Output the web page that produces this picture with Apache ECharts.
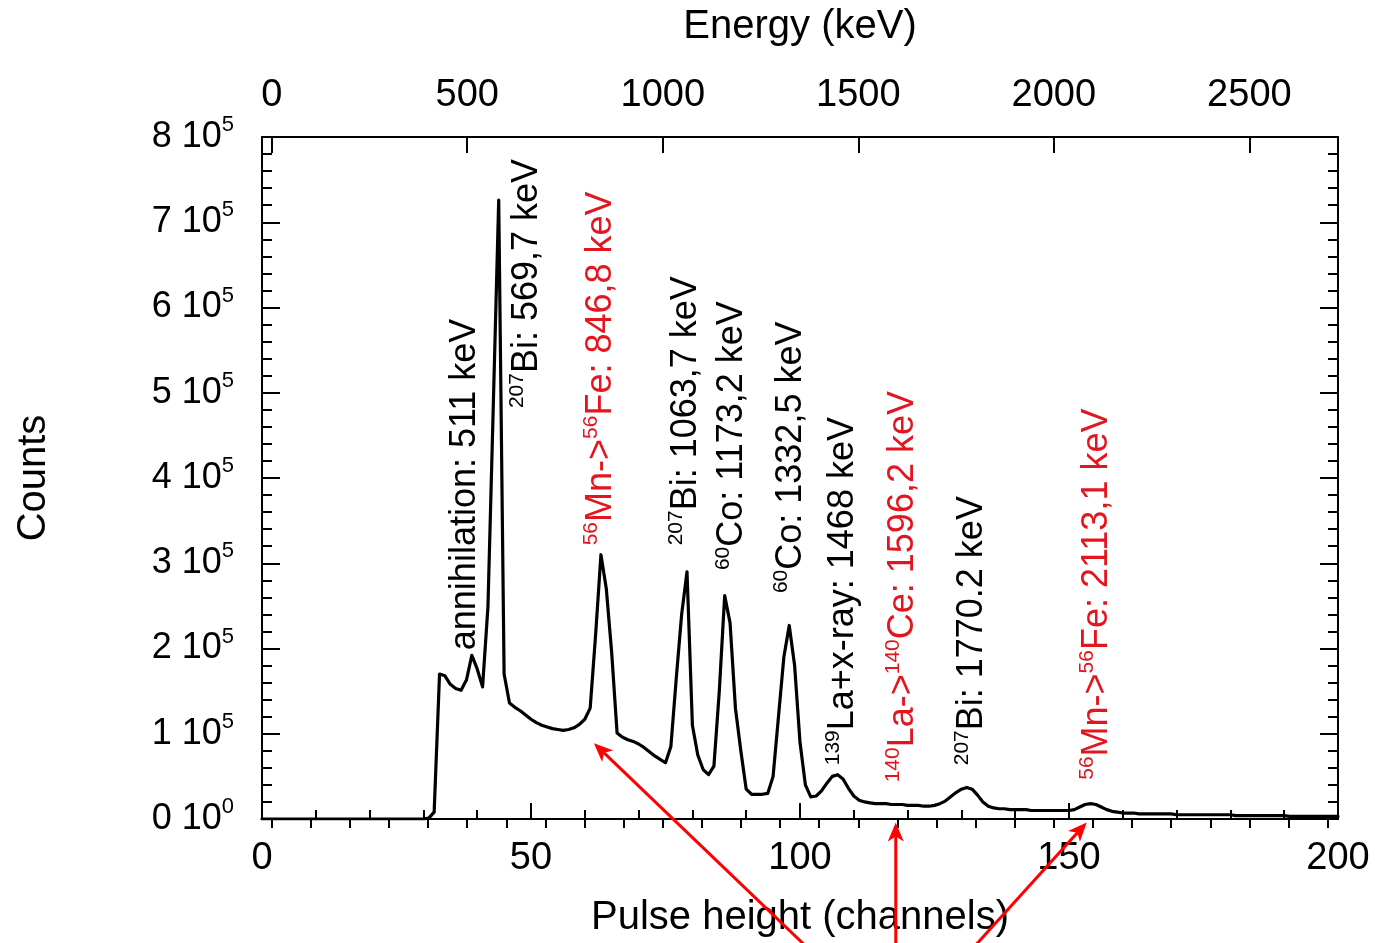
<!DOCTYPE html>
<html>
<head>
<meta charset="utf-8">
<title>Gamma spectrum</title>
<script src="https://cdn.jsdelivr.net/npm/echarts@6/dist/echarts.min.js"></script>
<style>
  html, body { margin: 0; padding: 0; background: #ffffff; }
  #chart { width: 1375px; height: 943px; }
</style>
</head>
<body>
<div id="chart"></div>
<script>
// Counts per channel, channel = array index (0 .. 200)
const counts = [
  0, 0, 0, 0, 0, 0, 0, 0, 0, 0,                                   // 0-9
  0, 0, 0, 0, 0, 0, 0, 0, 0, 0,                                   // 10-19
  0, 0, 0, 0, 0, 0, 0, 0, 0, 0,                                   // 20-29
  0, 1000, 8000, 170000, 168000, 158000, 153000, 151000, 163000, 192000,          // 30-39
  176000, 155000, 249000, 487000, 726000, 170000, 136000, 131000, 127000, 122000, // 40-49
  117000, 113000, 110000, 108000, 106000, 105000, 104000, 105000, 107000, 111000, // 50-59
  117000, 130000, 215000, 310000, 270000, 195000, 101000, 96000, 93000, 91000,    // 60-69
  88000, 84000, 79000, 74000, 70000, 66000, 85000, 165000, 240000, 290000,        // 70-79
  110000, 75000, 58000, 52000, 62000, 150000, 262000, 230000, 130000, 80000,      // 80-89
  35000, 29000, 29000, 29000, 30000, 50000, 120000, 190000, 227000, 180000,       // 90-99
  90000, 40000, 26000, 27000, 33000, 42000, 50000, 52000, 47000, 36000,           // 100-109
  27000, 22000, 20000, 19000, 18000, 18000, 18000, 17000, 17000, 17000,           // 110-119
  16000, 16000, 16000, 15000, 15000, 16000, 18000, 21000, 26000, 31000,           // 120-129
  35000, 37000, 35000, 28000, 20000, 15000, 13000, 12000, 12000, 11000,           // 130-139
  11000, 11000, 11000, 10000, 10000, 10000, 10000, 10000, 10000, 10000,           // 140-149
  10000, 11000, 14000, 17000, 18000, 17000, 14000, 11000, 9000, 8000,             // 150-159
  7000, 7000, 7000, 6000, 6000, 6000, 6000, 6000, 6000, 6000,                     // 160-169
  5000, 5000, 5000, 5000, 5000, 5000, 5000, 5000, 5000, 5000,                     // 170-179
  5000, 4000, 4000, 4000, 4000, 4000, 4000, 4000, 4000, 4000,                     // 180-189
  4000, 3000, 3000, 3000, 3000, 3000, 3000, 3000, 3000, 3000,                     // 190-199
  3000                                                                            // 200
];

// Bottom axis (channels) and left axis (counts) ticks
const channelRange = [0, 200];
const channelStep = 50;
const countRange = [0, 800000];
const countStep = 100000;
const yTickMantissa = [0, 1, 2, 3, 4, 5, 6, 7, 8];
const yTickExponent = [0, 5, 5, 5, 5, 5, 5, 5, 5];

// Energy calibration of the top axis: E(keV) = energyOffset + keVPerChannel * channel
const energyOffset = -24.8;
const keVPerChannel = 13.757;
const energyTicks = [0, 500, 1000, 1500, 2000, 2500];
const energyMinorTicks = [0, 100, 200, 300, 400, 500, 600, 700, 800, 900, 1000, 1100, 1200, 1300,
  1400, 1500, 1600, 1700, 1800, 1900, 2000, 2100, 2200, 2300, 2400, 2500, 2600, 2700];

// Peak annotations: anchor channel, anchor count (foot of the vertical text), label, colour
const peakChannels = [37.8, 49.2, 63.0, 78.8, 87.4, 98.3, 108.0, 119.1, 132.0, 155.2];
const peakAnchorCounts = [198000, 482000, 321000, 321000, 292000, 265000, 63000, 43000, 63000, 46000];
const peakLabels = [
  '{t|annihilation: 511 keV}',
  '{s|207}{t|Bi: 569,7 keV}',
  '{s|56}{t|Mn->}{s|56}{t|Fe: 846,8 keV}',
  '{s|207}{t|Bi: 1063,7 keV}',
  '{s|60}{t|Co: 1173,2 keV}',
  '{s|60}{t|Co: 1332,5 keV}',
  '{s|139}{t|La+x-ray: 1468 keV}',
  '{s|140}{t|La->}{s|140}{t|Ce: 1596,2 keV}',
  '{s|207}{t|Bi: 1770.2 keV}',
  '{s|56}{t|Mn->}{s|56}{t|Fe: 2113,1 keV}'
];
const peakIsActivation = [false, false, true, false, false, false, false, true, false, true];

// Red arrows: tip and tail in (channel, counts)
const arrowTips = [[61.7, 89000], [117.8, -4000], [153.3, -4000]];
const arrowTails = [[103.7, -165000], [117.8, -165000], [130.2, -165000]];

const FONT = "'Liberation Sans', Arial, Helvetica, sans-serif";
const INK = '#000000';
const RED = '#e3161f';

const chart = echarts.init(document.getElementById('chart'), null, { renderer: 'canvas' });

const energyMin = energyOffset + keVPerChannel * channelRange[0];
const energyMax = energyOffset + keVPerChannel * channelRange[1];

const spectrum = counts.map((c, ch) => [ch, c]);

const annotations = peakChannels.map((ch, i) => ({
  value: [ch, peakAnchorCounts[i]],
  label: { formatter: peakLabels[i], color: peakIsActivation[i] ? RED : INK }
}));

const axisLineStyle = { color: INK, width: 2 };

chart.setOption({
  animation: false,
  backgroundColor: '#ffffff',
  textStyle: { fontFamily: FONT },
  grid: { left: 262, right: 37, top: 137, bottom: 124, containLabel: false, show: false },
  xAxis: [
    {
      type: 'value', position: 'bottom',
      min: channelRange[0], max: channelRange[1], interval: channelStep,
      name: 'Pulse height (channels)', nameLocation: 'middle', nameGap: 79,
      nameTextStyle: { fontSize: 40, color: INK, fontFamily: FONT },
      axisLine: { show: true, onZero: false, lineStyle: axisLineStyle },
      axisTick: { show: true, inside: true, length: 16, lineStyle: { color: INK, width: 2 } },
      minorTick: { show: true, splitNumber: 5, length: 9, lineStyle: { color: INK, width: 2 } },
      axisLabel: { fontSize: 38, color: INK, margin: 21, fontFamily: FONT },
      splitLine: { show: false }
    },
    {
      type: 'value', position: 'top',
      min: energyMin, max: energyMax,
      name: 'Energy (keV)', nameLocation: 'middle', nameGap: 90,
      nameTextStyle: { fontSize: 40, color: INK, fontFamily: FONT },
      axisLine: { show: true, onZero: false, lineStyle: axisLineStyle },
      axisTick: { show: true, inside: true, length: 16, customValues: energyTicks, lineStyle: { color: INK, width: 2 } },
      axisLabel: {
        show: true, fontSize: 38, color: INK, margin: 22, customValues: energyTicks, fontFamily: FONT,
        formatter: function (v) { return String(Math.round(v)); }
      },
      splitLine: { show: false }
    },
    {
      type: 'value', position: 'top',
      min: energyMin, max: energyMax,
      axisLine: { show: false },
      axisTick: { show: true, inside: true, length: 9, customValues: energyMinorTicks, lineStyle: { color: INK, width: 2 } },
      axisLabel: { show: false },
      splitLine: { show: false }
    }
  ],
  yAxis: [
    {
      type: 'value', position: 'left',
      min: countRange[0], max: countRange[1], interval: countStep,
      name: 'Counts', nameLocation: 'middle', nameGap: 208,
      nameTextStyle: { fontSize: 40, color: INK, fontFamily: FONT },
      axisLine: { show: true, onZero: false, lineStyle: axisLineStyle },
      axisTick: { show: true, inside: true, length: 18, lineStyle: { color: INK, width: 2 } },
      minorTick: { show: true, splitNumber: 5, length: 10, lineStyle: { color: INK, width: 2 } },
      axisLabel: {
        margin: 28, color: INK, fontFamily: FONT,
        formatter: function (v) {
          const i = Math.round(v / countStep);
          return '{m|' + yTickMantissa[i] + ' 10}{e|' + yTickExponent[i] + '}';
        },
        rich: {
          m: { fontSize: 36, lineHeight: 46, color: INK, fontFamily: FONT },
          e: { fontSize: 22, color: INK, fontFamily: FONT, verticalAlign: 'top' }
        }
      },
      splitLine: { show: false }
    },
    {
      type: 'value', position: 'right',
      min: countRange[0], max: countRange[1], interval: countStep,
      axisLine: { show: true, onZero: false, lineStyle: axisLineStyle },
      axisTick: { show: true, inside: true, length: 18, lineStyle: { color: INK, width: 2 } },
      minorTick: { show: true, splitNumber: 5, length: 10, lineStyle: { color: INK, width: 2 } },
      axisLabel: { show: false },
      splitLine: { show: false }
    }
  ],
  series: [
    {
      name: 'Spectrum', type: 'line',
      xAxisIndex: 0, yAxisIndex: 0,
      data: spectrum,
      showSymbol: false, symbol: 'none',
      lineStyle: { color: INK, width: 3.2, join: 'round', cap: 'round' },
      silent: true, z: 3
    },
    {
      name: 'Peaks', type: 'scatter',
      xAxisIndex: 0, yAxisIndex: 0,
      data: annotations,
      symbolSize: 1,
      itemStyle: { color: 'rgba(0,0,0,0)', opacity: 1 },
      silent: true, z: 4,
      label: {
        show: true, position: 'inside', distance: 0, opacity: 1,
        rotate: 90, align: 'left', verticalAlign: 'middle',
        fontFamily: FONT,
        rich: {
          t: { fontSize: 36, lineHeight: 40, fontFamily: FONT },
          s: { fontSize: 21, fontFamily: FONT, verticalAlign: 'top' }
        }
      },
      labelLayout: { hideOverlap: false }
    }
  ]
});

// Arrows are placed with the chart's own coordinate conversion
function buildArrows() {
  const els = [];
  for (let i = 0; i < arrowTips.length; i++) {
    const tip = chart.convertToPixel({ seriesIndex: 0 }, arrowTips[i]);
    const tail = chart.convertToPixel({ seriesIndex: 0 }, arrowTails[i]);
    const dx = tip[0] - tail[0], dy = tip[1] - tail[1];
    const len = Math.hypot(dx, dy);
    const ux = dx / len, uy = dy / len;
    const headLen = 19, headHalf = 8, notch = 5;
    const base = [tip[0] - ux * headLen, tip[1] - uy * headLen];
    const inner = [base[0] + ux * notch, base[1] + uy * notch];
    els.push({
      type: 'line', silent: true, z: 100,
      shape: { x1: tail[0], y1: tail[1], x2: inner[0], y2: inner[1] },
      style: { stroke: '#ff0000', lineWidth: 3 }
    });
    els.push({
      type: 'polygon', silent: true, z: 100,
      shape: { points: [
        tip,
        [base[0] - uy * headHalf, base[1] + ux * headHalf],
        inner,
        [base[0] + uy * headHalf, base[1] - ux * headHalf]
      ] },
      style: { fill: '#ff0000' }
    });
  }
  return els;
}
chart.setOption({ graphic: buildArrows() });
</script>
</body>
</html>
